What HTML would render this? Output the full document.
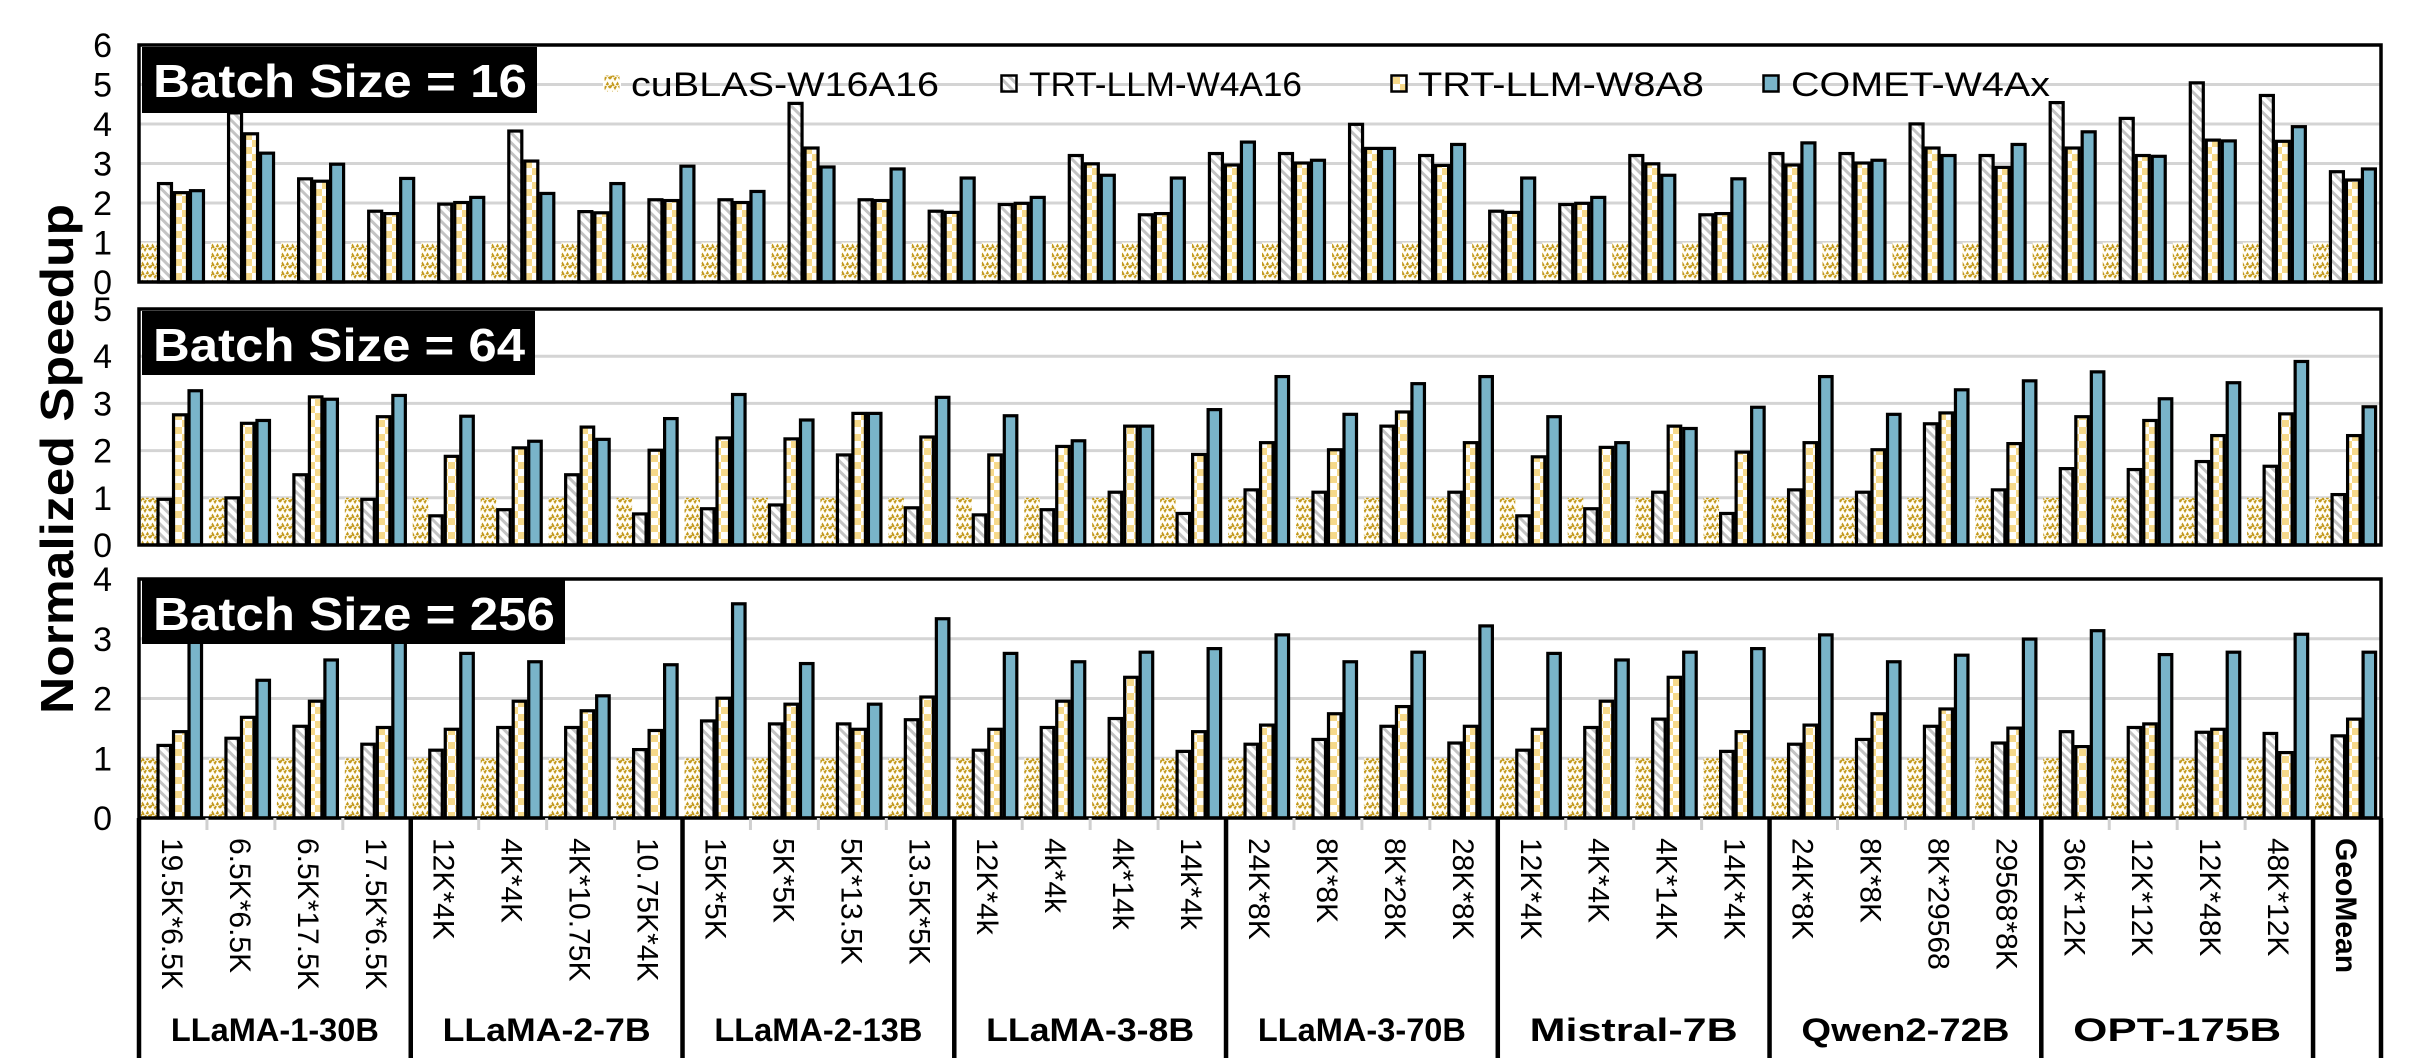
<!DOCTYPE html>
<html><head><meta charset="utf-8"><style>
html,body{margin:0;padding:0;background:#fff;}
svg{display:block;font-family:"Liberation Sans",Arial,sans-serif;}
</style></head><body>
<svg id="chart" width="2434" height="1061" viewBox="0 0 2434 1061" xmlns="http://www.w3.org/2000/svg">
<defs>
<pattern id="pZig" patternUnits="userSpaceOnUse" width="10" height="9">
<rect width="10" height="9" fill="#fffdf5"/>
<polyline points="0,7 2.5,2.5 5,7 7.5,2.5 10,7" fill="none" stroke="#c49a1c" stroke-width="2" stroke-dasharray="3.5,1"/>
</pattern>
<pattern id="pHatch" patternUnits="userSpaceOnUse" width="7" height="7" patternTransform="rotate(-45)">
<rect width="7" height="7" fill="#fff"/><rect width="3" height="7" fill="#c4c4c4"/>
</pattern>
<pattern id="pCheck" patternUnits="userSpaceOnUse" width="14" height="14">
<rect width="14" height="14" fill="#fff"/><rect width="7" height="7" fill="#f6d98a"/><rect x="7" y="7" width="7" height="7" fill="#f6d98a"/>
</pattern>
</defs>
<g id="root"></g>
</svg>
<script>
const categories=["19.5K*6.5K","6.5K*6.5K","6.5K*17.5K","17.5K*6.5K","12K*4K","4K*4K","4K*10.75K","10.75K*4K","15K*5K","5K*5K","5K*13.5K","13.5K*5K","12K*4k","4k*4k","4k*14k","14k*4k","24K*8K","8K*8K","8K*28K","28K*8K","12K*4K","4K*4K","4K*14K","14K*4K","24K*8K","8K*8K","8K*29568","29568*8K","36K*12K","12K*12K","12K*48K","48K*12K","GeoMean"];
const models=["LLaMA-1-30B","LLaMA-2-7B","LLaMA-2-13B","LLaMA-3-8B","LLaMA-3-70B","Mistral-7B","Qwen2-72B","OPT-175B"];
const seriesNames=["cuBLAS-W16A16","TRT-LLM-W4A16","TRT-LLM-W8A8","COMET-W4Ax"];
const yTicks16=[0,1,2,3,4,5,6];
const yTicks64=[0,1,2,3,4,5];
const yTicks256=[0,1,2,3,4];
const bs16Cublas=[1,1,1,1,1,1,1,1,1,1,1,1,1,1,1,1,1,1,1,1,1,1,1,1,1,1,1,1,1,1,1,1];
const bs16W4A16=[2.53,4.32,2.65,1.83,2.01,3.86,1.82,2.12,2.12,4.56,2.12,1.83,2.0,3.24,1.74,3.29,3.29,4.03,3.24,1.83,2.0,3.24,1.74,3.29,3.29,4.04,3.24,4.58,4.18,5.08,4.76,2.83];
const bs16W8A8=[2.3,3.79,2.59,1.77,2.05,3.1,1.79,2.1,2.05,3.43,2.1,1.8,2.03,3.03,1.77,3.0,3.05,3.42,2.99,1.8,2.03,3.03,1.77,3.0,3.05,3.43,2.94,3.43,3.24,3.63,3.6,2.62];
const bs16Comet=[2.35,3.3,3.02,2.66,2.18,2.28,2.53,2.97,2.33,2.95,2.9,2.67,2.18,2.74,2.67,3.58,3.12,3.42,3.52,2.67,2.18,2.74,2.65,3.56,3.12,3.24,3.52,3.84,3.22,3.61,3.97,2.9];
const bs64Cublas=[1,1,1,1,1,1,1,1,1,1,1,1,1,1,1,1,1,1,1,1,1,1,1,1,1,1,1,1,1,1,1,1,1];
const bs64W4A16=[1.0,1.03,1.52,1.0,0.65,0.78,1.52,0.69,0.8,0.88,1.94,0.82,0.67,0.78,1.15,0.7,1.2,1.15,2.55,1.15,0.65,0.8,1.15,0.7,1.2,1.15,2.6,1.2,1.65,1.63,1.8,1.7,1.1];
const bs64W8A8=[2.79,2.61,3.17,2.75,1.91,2.09,2.53,2.04,2.3,2.28,2.82,2.32,1.94,2.12,2.55,1.95,2.2,2.05,2.85,2.2,1.9,2.1,2.55,2.0,2.2,2.05,2.83,2.18,2.75,2.67,2.35,2.81,2.35];
const bs64Comet=[3.3,2.67,3.12,3.2,2.76,2.23,2.27,2.71,3.22,2.68,2.82,3.16,2.77,2.24,2.55,2.9,3.6,2.8,3.45,3.6,2.75,2.2,2.5,2.95,3.6,2.8,3.32,3.51,3.7,3.13,3.47,3.92,2.96];
const bs256Cublas=[1,1,1,1,1,1,1,1,1,1,1,1,1,1,1,1,1,1,1,1,1,1,1,1,1,1,1,1,1,1,1,1,1];
const bs256W4A16=[1.24,1.36,1.56,1.26,1.16,1.54,1.54,1.17,1.65,1.6,1.6,1.67,1.16,1.54,1.69,1.14,1.26,1.34,1.56,1.28,1.16,1.54,1.68,1.14,1.26,1.34,1.56,1.28,1.47,1.54,1.46,1.44,1.4];
const bs256W8A8=[1.47,1.71,1.98,1.54,1.51,1.98,1.82,1.49,2.03,1.93,1.51,2.05,1.51,1.98,2.38,1.47,1.58,1.77,1.89,1.56,1.51,1.98,2.38,1.47,1.58,1.77,1.85,1.53,1.22,1.6,1.51,1.12,1.68];
const bs256Comet=[3.1,2.33,2.67,3.1,2.78,2.64,2.07,2.59,3.61,2.61,1.93,3.36,2.78,2.64,2.8,2.86,3.09,2.64,2.8,3.24,2.78,2.67,2.8,2.86,3.09,2.64,2.75,3.02,3.16,2.76,2.8,3.1,2.8];

const NS="http://www.w3.org/2000/svg";
const root=document.getElementById('root');
function mk(tag,attrs,parent){const e=document.createElementNS(NS,tag);for(const k in attrs)e.setAttribute(k,attrs[k]);(parent||root).appendChild(e);return e;}
const X0=139,X1=2381;
const panels=[
 {name:'bs16',label:'Batch Size = 16',top:45,bottom:282,max:6,ticks:yTicks16,series:[bs16Cublas,bs16W4A16,bs16W8A8,bs16Comet],box:[142,47,395,66],tl:374,base:97},
 {name:'bs64',label:'Batch Size = 64',top:309,bottom:545,max:5,ticks:yTicks64,series:[bs64Cublas,bs64W4A16,bs64W8A8,bs64Comet],box:[142,311,393,64],tl:372,base:361},
 {name:'bs256',label:'Batch Size = 256',top:579,bottom:818,max:4,ticks:yTicks256,series:[bs256Cublas,bs256W4A16,bs256W8A8,bs256Comet],box:[142,578,423,66],tl:402,base:630}
];
const fills=['url(#pZig)','url(#pHatch)','url(#pCheck)','#79b4c9'];
panels.forEach(p=>{
 const g=mk('g',{});
 
 
 const yS=v=>p.bottom-v*(p.bottom-p.top)/p.max;
 p.ticks.forEach(t=>{
  if(t>0&&t<p.max){const l=mk('line',{x1:X0,x2:X1,y1:yS(t),y2:yS(t),stroke:'#d4d4d4','stroke-width':3},g);
   }
  const tx=mk('text',{x:112,y:yS(t)+12,'text-anchor':'end','font-size':34,fill:'#000'},g);
  
  tx.textContent=String(t);
 });
 const n=p.series[1].length;
 const pitch=(X1-X0)/n;
 const bw=15.5*pitch/67.9;
 for(let i=0;i<n;i++){
  const gx=X0+i*pitch;
  for(let s=0;s<4;s++){
   const v=p.series[s][i];
   const bx=gx+2+s*bw;
   const y=yS(v);
   const r=mk('rect',{x:bx+(s?1.5:0),y:y+(s?1.5:0),width:bw-(s?3:0),height:p.bottom-y-(s?1.5:0),fill:fills[s],stroke:s?'#000':'none','stroke-width':3.2},g);
   
   
  }
 }
 const fr=mk('rect',{x:X0,y:p.top,width:X1-X0,height:p.bottom-p.top,fill:'none',stroke:'#000','stroke-width':3.5},g);
 
 const b=mk('rect',{x:p.box[0],y:p.box[1],width:p.box[2],height:p.box[3],fill:'#000'},g);
 
 const bt=mk('text',{x:153,y:p.base,'font-size':46,'font-weight':'bold',fill:'#fff',textLength:p.tl,lengthAdjust:'spacingAndGlyphs'},g);
 
 bt.textContent=p.label;
});
const legX=[603,1000,1390,1762],legTX=[631,1029,1418,1791],legTL=[308,273,286,259];
seriesNames.forEach((nm,s)=>{
 const g=mk('g',{});
 
 
 mk('rect',{x:legX[s],y:74,width:18,height:19,fill:'#fff'},g);
 const m=mk('rect',{x:legX[s]+1.5,y:75.5,width:15,height:16,fill:fills[s],stroke:s?'#000':'none','stroke-width':2.5},g);
 
 const t=mk('text',{x:legTX[s],y:96,'font-size':34,fill:'#000',textLength:legTL[s],lengthAdjust:'spacingAndGlyphs'},g);
 
 t.textContent=nm;
});
const yt=mk('text',{transform:'translate(73,459) rotate(-90)','text-anchor':'middle','font-size':46,'font-weight':'bold',fill:'#000',textLength:510,lengthAdjust:'spacingAndGlyphs'});

yt.textContent='Normalized Speedup';
const pitch3=(X1-X0)/categories.length;
categories.forEach((c,i)=>{
 const cx=X0+(i+0.5)*pitch3;
 if(i>0&&i%4!==0){const tk=mk('line',{x1:X0+i*pitch3,x2:X0+i*pitch3,y1:818,y2:830,stroke:'#d0d0d0','stroke-width':3});
  }
 const t=mk('text',{transform:'translate('+(cx-11)+',838) rotate(90)','font-size':30,fill:'#000','font-weight':i===32?'bold':'normal'});
 
 t.textContent=c;
});
for(let k=0;k<=8;k++){
 const x=X0+k*4*pitch3;
 const l=mk('line',{x1:x,x2:x,y1:818,y2:1058,stroke:'#000','stroke-width':4.5});
 
}
const lr=mk('line',{x1:X1,x2:X1,y1:818,y2:1058,stroke:'#000','stroke-width':4.5});

models.forEach((m,k)=>{
 const cx=X0+(k*4+2)*pitch3;
 const t=mk('text',{x:cx,y:1041,'text-anchor':'middle','font-size':32,'font-weight':'bold',fill:'#000',textLength:208,lengthAdjust:'spacingAndGlyphs'});
 
 t.textContent=m;
});
</script>
</body></html>
